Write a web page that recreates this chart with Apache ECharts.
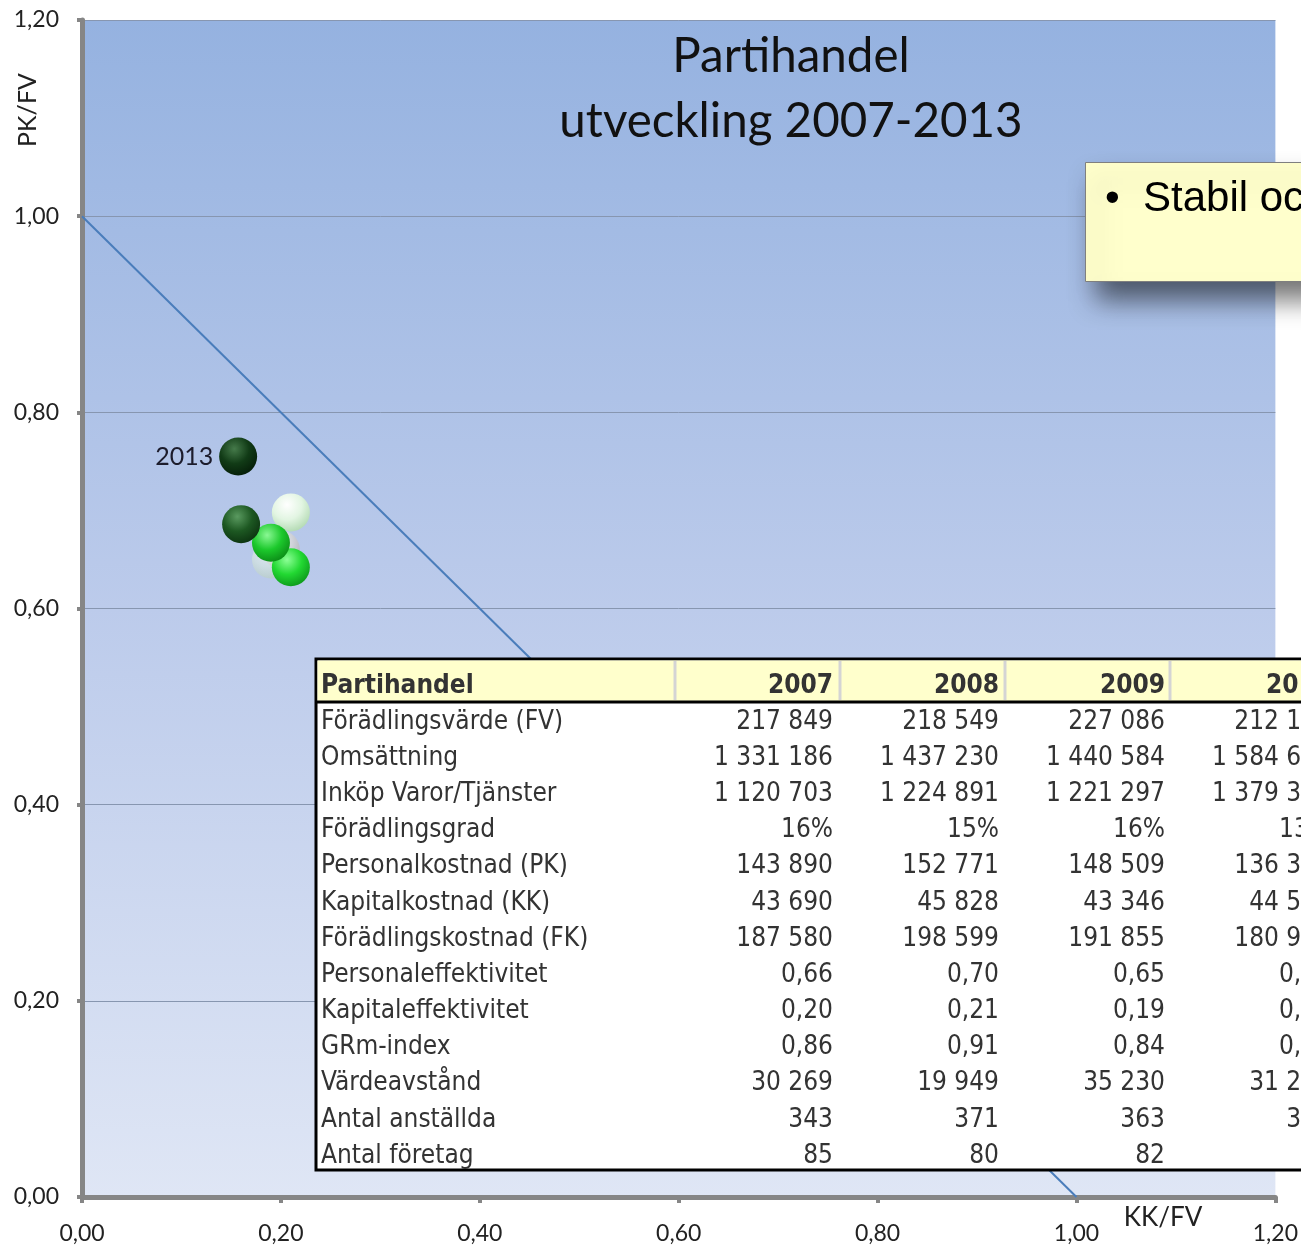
<!DOCTYPE html>
<html>
<head>
<meta charset="utf-8">
<script src="https://cdn.jsdelivr.net/npm/echarts@6/dist/echarts.min.js"></script>
<style>
  html, body { margin: 0; padding: 0; background: #fff; }
  #chart { width: 1301px; height: 1245px; }
</style>
</head>
<body>
<div id="chart"></div>
<script>
// punkterna: KK/FV (x) och PK/FV (y) per år
var years = ['2007', '2008', '2009', '2010', '2011', '2012', '2013'];
var kkFv = [0.20, 0.21, 0.19, 0.21, 0.19, 0.16, 0.157];
var pkFv = [0.66, 0.698, 0.65, 0.642, 0.667, 0.686, 0.755];

// linjen PK/FV + KK/FV = 1
var lineX = [0, 1];
var lineY = [1, 0];

var yTicks = ['0,00', '0,20', '0,40', '0,60', '0,80', '1,00', '1,20'];

// tabellen
var tableTitle = 'Partihandel';
var tableYears = ['2007', '2008', '2009', '2010'];
var rowLabels = [
  'Förädlingsvärde (FV)', 'Omsättning', 'Inköp Varor/Tjänster', 'Förädlingsgrad',
  'Personalkostnad (PK)', 'Kapitalkostnad (KK)', 'Förädlingskostnad (FK)',
  'Personaleffektivitet', 'Kapitaleffektivitet', 'GRm-index', 'Värdeavstånd',
  'Antal anställda', 'Antal företag'
];
var col2007 = ['217 849', '1 331 186', '1 120 703', '16%', '143 890', '43 690', '187 580', '0,66', '0,20', '0,86', '30 269', '343', '85'];
var col2008 = ['218 549', '1 437 230', '1 224 891', '15%', '152 771', '45 828', '198 599', '0,70', '0,21', '0,91', '19 949', '371', '80'];
var col2009 = ['227 086', '1 440 584', '1 221 297', '16%', '148 509', '43 346', '191 855', '0,65', '0,19', '0,84', '35 230', '363', '82'];
var col2010 = ['212 150', '1 584 640', '1 379 330', '13%', '136 350', '44 550', '180 900', '0,64', '0,21', '0,85', '31 250', '345', '79'];

// färger för kulorna (ljus, mitt, mörk), äldst -> nyast
var ballColors = [
  ['#f6f6f6', '#d6d6d8', '#a9a9ae'],
  ['#ffffff', '#e2f5e2', '#acd6ac'],
  ['#ffffff', '#dcecdc', '#b2cab2'],
  ['#8cff96', '#22d832', '#0a9018'],
  ['#8af894', '#1cc92c', '#098414'],
  ['#5a9a60', '#1d5822', '#0a2e0e'],
  ['#457a4a', '#113b16', '#041a07']
];
var ballOpacity = [0.85, 1, 0.55, 1, 1, 1, 1];

function fmt(v) { return v.toFixed(2).replace('.', ','); }

var ballData = years.map(function (y, i) {
  var c = ballColors[i];
  var item = {
    name: y,
    value: [kkFv[i], pkFv[i]],
    itemStyle: {
      opacity: ballOpacity[i],
      color: {
        type: 'radial', x: 0.4, y: 0.3, r: 0.78,
        colorStops: [
          { offset: 0, color: c[0] },
          { offset: 0.5, color: c[1] },
          { offset: 1, color: c[2] }
        ]
      }
    }
  };
  if (y === '2013') {
    item.label = {
      show: true, position: 'left', distance: 6, formatter: '{b}',
      fontFamily: 'Lato', fontSize: 25, color: '#1c1c2c'
    };
  }
  return item;
});

// tabell som grafik
var tX = 316, tY = 659, tW = 1100, tH = 511, headH = 43, rowH = 36.17;
var colRight = [833, 999, 1165, 1331];
var colSep = [675, 840, 1005, 1170];
var cols = [col2007, col2008, col2009, col2010];
var tFont = '"DejaVu Sans Condensed", "DejaVu Sans", sans-serif';
var Z = 100;

var tableEls = [
  { type: 'rect', z: Z, shape: { x: tX, y: tY, width: tW, height: tH },
    style: { fill: '#ffffff', stroke: '#000', lineWidth: 3 } },
  { type: 'rect', z: Z + 1, shape: { x: tX + 1.5, y: tY + 1.5, width: tW - 3, height: headH - 2 },
    style: { fill: '#ffffcc' } },
  { type: 'line', z: Z + 2, shape: { x1: tX, y1: tY + headH, x2: tX + tW, y2: tY + headH },
    style: { stroke: '#000', lineWidth: 3 } }
];
colSep.forEach(function (x) {
  tableEls.push({ type: 'line', z: Z + 2, shape: { x1: x, y1: tY + 2, x2: x, y2: tY + headH - 2 },
    style: { stroke: '#d4d4d4', lineWidth: 3 } });
});
tableEls.push({ type: 'text', z: Z + 3, x: tX + 5, y: tY + 27,
  style: { text: tableTitle, font: 'bold 26px ' + tFont, fill: '#333', textVerticalAlign: 'middle' } });
tableYears.forEach(function (y, j) {
  tableEls.push({ type: 'text', z: Z + 3, x: colRight[j], y: tY + 27,
    style: { text: y, font: 'bold 26px ' + tFont, fill: '#333', textAlign: 'right', textVerticalAlign: 'middle' } });
});
rowLabels.forEach(function (lab, i) {
  var cy = 722 + i * rowH;
  tableEls.push({ type: 'text', z: Z + 3, x: tX + 5, y: cy,
    style: { text: lab, font: '26px ' + tFont, fill: '#333', textVerticalAlign: 'middle' } });
  cols.forEach(function (col, j) {
    tableEls.push({ type: 'text', z: Z + 3, x: colRight[j], y: cy,
      style: { text: col[i], font: '26px ' + tFont, fill: '#333', textAlign: 'right', textVerticalAlign: 'middle' } });
  });
});

var myChart = echarts.init(document.getElementById('chart'));

var option = {
  animation: false,
  title: {
    text: 'Partihandel\nutveckling 2007-2013',
    left: 786,
    top: 19,
    textAlign: 'center',
    textStyle: { fontFamily: 'Lato', fontSize: 47.5, fontWeight: 'normal', color: '#111', lineHeight: 65 }
  },
  grid: {
    left: 82, right: 25, top: 20, bottom: 48,
    show: true, borderWidth: 0,
    backgroundColor: {
      type: 'linear', x: 0, y: 0, x2: 0, y2: 1,
      colorStops: [
        { offset: 0, color: '#95b2e0' },
        { offset: 0.5, color: '#bccbeb' },
        { offset: 1, color: '#dfe6f5' }
      ]
    }
  },
  xAxis: {
    type: 'value', min: 0, max: 1.2, interval: 0.2,
    axisLine: { show: true, lineStyle: { color: '#868686', width: 5 } },
    axisTick: { show: true, length: 6, lineStyle: { color: '#868686', width: 4 } },
    splitLine: { show: false },
    axisLabel: { formatter: fmt, fontFamily: 'Lato', fontSize: 23, color: '#222', margin: 25 }
  },
  yAxis: {
    type: 'value', min: 0, max: 1.2, interval: 0.2,
    axisLine: { show: true, lineStyle: { color: '#868686', width: 5 } },
    axisTick: { show: true, length: 5, lineStyle: { color: '#868686', width: 4 } },
    splitLine: { show: true, lineStyle: { color: '#8796b0', width: 1 } },
    axisLabel: {
      formatter: function (v) { return yTicks[Math.round(v / 0.2)]; },
      fontFamily: 'Lato', fontSize: 23, color: '#222', margin: 23
    }
  },
  series: [
    {
      type: 'line',
      data: lineX.map(function (x, i) { return [x, lineY[i]]; }),
      showSymbol: false,
      lineStyle: { color: '#4a7dbb', width: 2 },
      z: 2
    },
    {
      type: 'scatter',
      symbolSize: 38,
      data: ballData,
      z: 3
    }
  ],
  graphic: [
    { type: 'text', x: 28, y: 110, rotation: Math.PI / 2,
      style: { text: 'PK/FV', font: '25px Lato', fill: '#222', textAlign: 'center', textVerticalAlign: 'middle' } },
    { type: 'text', x: 1163, y: 1218,
      style: { text: 'KK/FV', font: '26px Lato', fill: '#222', textAlign: 'center', textVerticalAlign: 'middle' } },
    { type: 'group', children: tableEls },
    { type: 'rect', z: 110, shape: { x: 1085.5, y: 162.5, width: 260, height: 119 },
      style: { fill: '#ffffcc', stroke: '#7f7f7f', lineWidth: 1,
        shadowBlur: 25, shadowOffsetX: 10, shadowOffsetY: 18, shadowColor: 'rgba(0,0,0,0.55)' } },
    { type: 'text', z: 111, x: 1105, y: 199,
      style: { text: '•', font: '42px "Liberation Sans", Arial', fill: '#000', textVerticalAlign: 'middle' } },
    { type: 'text', z: 111, x: 1143, y: 199,
      style: { text: 'Stabil och', font: '42px "Liberation Sans", Arial', fill: '#000', textVerticalAlign: 'middle' } }
  ]
};

myChart.setOption(option);
</script>
</body>
</html>
